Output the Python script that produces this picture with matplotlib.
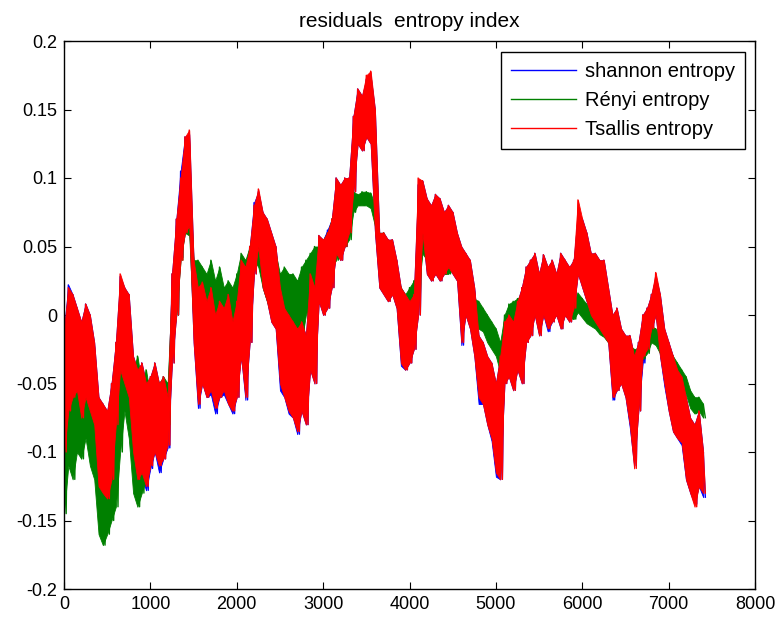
import numpy as np
import matplotlib
matplotlib.use("Agg")
import matplotlib.pyplot as plt

# Each series is stored as its local upper / lower swing for every block of
# 50 samples; the trace alternates between the two within the block.
step = 50

tsallis_hi = [
    -0.01, 0.02, 0.015, 0.005, -0.005, 0.008, 0.0, -0.02,
    -0.06, -0.065, -0.07, -0.05, -0.02, 0.03, 0.02, 0.015,
    -0.03, -0.04, -0.035, -0.05, -0.045, -0.035, -0.05, -0.045,
    -0.06, 0.03, 0.07, 0.10, 0.13, 0.135, 0.04, 0.02,
    0.024, 0.01, 0.02, 0.0, 0.01, 0.005, 0.015, -0.005,
    0.01, 0.04, 0.035, 0.05, 0.08, 0.092, 0.075, 0.07,
    0.06, 0.05, 0.02, 0.005, 0.0, -0.005, -0.01, -0.005,
    -0.015, 0.03, 0.02, 0.058, 0.055, 0.06, 0.07, 0.10,
    0.095, 0.10, 0.10, 0.145, 0.165, 0.16, 0.175, 0.178,
    0.15, 0.06, 0.06, 0.055, 0.055, 0.04, 0.02, 0.015,
    0.01, 0.015, 0.10, 0.098, 0.085, 0.08, 0.088, 0.085,
    0.075, 0.08, 0.075, 0.06, 0.05, 0.045, 0.04, 0.02,
    -0.015, -0.02, -0.03, -0.035, -0.05, -0.03, -0.005, 0.0,
    -0.005, 0.01, 0.02, 0.035, 0.04, 0.045, 0.03, 0.044,
    0.035, 0.04, 0.03, 0.045, 0.04, 0.035, 0.04, 0.084,
    0.07, 0.06, 0.045, 0.045, 0.04, 0.04, 0.02, 0.0,
    0.005, -0.01, -0.015, -0.015, -0.03, -0.02, 0.0, 0.005,
    0.015, 0.031, 0.015, -0.01, -0.02, -0.03, -0.04, -0.045,
    -0.06, -0.075, -0.08, -0.07, -0.10,
]
tsallis_lo = [
    -0.10, -0.07, -0.06, -0.055, -0.075, -0.06, -0.07, -0.08,
    -0.125, -0.13, -0.134, -0.12, -0.08, -0.04, -0.05, -0.06,
    -0.10, -0.12, -0.115, -0.125, -0.11, -0.10, -0.11, -0.105,
    -0.095, -0.035, 0.0, 0.04, 0.06, 0.065, -0.02, -0.065,
    -0.05, -0.06, -0.055, -0.068, -0.06, -0.055, -0.065, -0.07,
    -0.06, -0.03, -0.06, -0.02, 0.03, 0.05, 0.02, 0.01,
    -0.005, -0.01, -0.05, -0.06, -0.07, -0.075, -0.085, -0.07,
    -0.08, -0.04, -0.05, 0.01, 0.0, 0.005, 0.02, 0.045,
    0.04, 0.05, 0.06, 0.09, 0.125, 0.12, 0.13, 0.125,
    0.06, 0.02, 0.015, 0.01, 0.015, 0.005, -0.035, -0.04,
    -0.035, -0.025, 0.0, 0.06, 0.03, 0.025, 0.03, 0.025,
    0.03, 0.035, 0.03, 0.025, -0.02, 0.0, -0.01, -0.03,
    -0.06, -0.065, -0.08, -0.09, -0.115, -0.12, -0.05, -0.045,
    -0.055, -0.04, -0.05, -0.02, -0.015, 0.0, -0.015, 0.0,
    -0.01, -0.005, 0.0, -0.01, 0.0, -0.005, 0.005, 0.03,
    0.02, 0.01, 0.0, -0.005, -0.01, -0.015, -0.02, -0.06,
    -0.055, -0.05, -0.06, -0.08, -0.112, -0.07, -0.03, -0.025,
    -0.01, 0.0, -0.03, -0.05, -0.07, -0.085, -0.09, -0.093,
    -0.12, -0.13, -0.14, -0.125, -0.13,
]

shannon_hi = [
    -0.01, 0.022, 0.015, 0.005, -0.005, 0.008, 0.0, -0.02,
    -0.06, -0.065, -0.07, -0.05, -0.02, 0.028, 0.02, 0.015,
    -0.03, -0.04, -0.035, -0.05, -0.045, -0.035, -0.05, -0.045,
    -0.06, 0.03, 0.07, 0.105, 0.13, 0.132, 0.04, 0.02,
    0.024, 0.01, 0.02, 0.0, 0.01, 0.005, 0.015, -0.005,
    0.01, 0.04, 0.035, 0.05, 0.082, 0.09, 0.075, 0.07,
    0.06, 0.05, 0.02, 0.005, 0.0, -0.005, -0.01, -0.005,
    -0.015, 0.03, 0.02, 0.058, 0.055, 0.062, 0.07, 0.10,
    0.095, 0.10, 0.10, 0.145, 0.165, 0.16, 0.172, 0.175,
    0.15, 0.06, 0.06, 0.055, 0.055, 0.04, 0.02, 0.015,
    0.01, 0.015, 0.095, 0.098, 0.085, 0.08, 0.088, 0.085,
    0.075, 0.08, 0.075, 0.06, 0.05, 0.045, 0.04, 0.02,
    -0.015, -0.02, -0.03, -0.035, -0.05, -0.03, -0.005, 0.0,
    -0.005, 0.01, 0.02, 0.035, 0.04, 0.045, 0.03, 0.044,
    0.035, 0.04, 0.03, 0.045, 0.04, 0.035, 0.04, 0.075,
    0.07, 0.06, 0.045, 0.045, 0.04, 0.04, 0.02, 0.0,
    0.005, -0.01, -0.015, -0.015, -0.03, -0.02, 0.0, 0.005,
    0.015, 0.028, 0.015, -0.01, -0.02, -0.03, -0.04, -0.045,
    -0.06, -0.075, -0.08, -0.07, -0.10,
]
shannon_lo = [
    -0.10, -0.072, -0.06, -0.058, -0.078, -0.06, -0.07, -0.082,
    -0.128, -0.13, -0.136, -0.12, -0.08, -0.042, -0.05, -0.06,
    -0.105, -0.12, -0.118, -0.128, -0.112, -0.10, -0.115, -0.105,
    -0.097, -0.035, 0.0, 0.042, 0.06, 0.065, -0.02, -0.068,
    -0.05, -0.06, -0.058, -0.072, -0.06, -0.058, -0.065, -0.072,
    -0.06, -0.03, -0.062, -0.02, 0.03, 0.05, 0.02, 0.01,
    -0.005, -0.01, -0.055, -0.06, -0.072, -0.075, -0.087, -0.07,
    -0.08, -0.04, -0.05, 0.01, 0.0, 0.005, 0.02, 0.045,
    0.04, 0.05, 0.06, 0.09, 0.125, 0.12, 0.13, 0.125,
    0.06, 0.02, 0.015, 0.01, 0.015, 0.005, -0.037, -0.04,
    -0.035, -0.025, 0.0, 0.06, 0.03, 0.025, 0.03, 0.025,
    0.03, 0.035, 0.03, 0.025, -0.022, 0.0, -0.01, -0.03,
    -0.065, -0.065, -0.08, -0.092, -0.118, -0.12, -0.05, -0.045,
    -0.055, -0.04, -0.05, -0.02, -0.015, 0.0, -0.015, 0.0,
    -0.012, -0.005, 0.0, -0.01, 0.0, -0.005, 0.005, 0.03,
    0.02, 0.01, 0.0, -0.005, -0.01, -0.015, -0.02, -0.062,
    -0.055, -0.05, -0.06, -0.082, -0.11, -0.07, -0.035, -0.025,
    -0.01, 0.0, -0.03, -0.052, -0.07, -0.085, -0.09, -0.095,
    -0.12, -0.13, -0.138, -0.125, -0.133,
]

renyi_hi = [
    -0.03, -0.02, -0.03, -0.02, -0.015, -0.03, -0.04, -0.06,
    -0.08, -0.09, -0.10, -0.07, -0.04, -0.02, -0.01, -0.03,
    -0.04, -0.03, -0.05, -0.04, -0.06, -0.04, -0.05, -0.045,
    -0.05, 0.02, 0.06, 0.09, 0.11, 0.10, 0.04, 0.04,
    0.035, 0.03, 0.04, 0.025, 0.035, 0.02, 0.025, 0.02,
    0.03, 0.045, 0.04, 0.05, 0.07, 0.075, 0.065, 0.06,
    0.05, 0.045, 0.03, 0.035, 0.03, 0.03, 0.025, 0.035,
    0.04, 0.045, 0.05, 0.05, 0.055, 0.06, 0.07, 0.08,
    0.075, 0.08, 0.075, 0.09, 0.088, 0.09, 0.09, 0.089,
    0.08, 0.06, 0.06, 0.045, 0.045, 0.03, 0.02, 0.015,
    0.02, 0.025, 0.03, 0.065, 0.058, 0.055, 0.052, 0.05,
    0.05, 0.048, 0.05, 0.045, 0.04, 0.04, 0.035, 0.012,
    0.01, 0.005, 0.0, -0.005, -0.01, -0.02, 0.0, 0.008,
    0.01, 0.012, 0.015, 0.016, 0.018, 0.02, 0.019, 0.02,
    0.016, 0.017, 0.013, 0.015, 0.012, 0.012, 0.01, 0.016,
    0.012, 0.008, 0.005, 0.003, 0.0, -0.003, -0.008, -0.012,
    -0.016, -0.018, -0.02, -0.022, -0.025, -0.024, -0.02, -0.015,
    -0.008, -0.01, -0.015, -0.02, -0.025, -0.03, -0.035, -0.04,
    -0.045, -0.055, -0.06, -0.06, -0.065,
]
renyi_lo = [
    -0.145, -0.11, -0.12, -0.10, -0.105, -0.09, -0.11, -0.12,
    -0.16, -0.168, -0.16, -0.15, -0.14, -0.10, -0.07, -0.09,
    -0.13, -0.14, -0.13, -0.12, -0.10, -0.095, -0.10, -0.09,
    -0.08, -0.02, 0.0, 0.04, 0.06, 0.058, -0.01, -0.02,
    -0.025, -0.02, -0.015, -0.03, -0.02, -0.025, -0.03, -0.025,
    -0.01, 0.0, -0.005, 0.01, 0.04, 0.035, 0.02, 0.01,
    0.0, -0.005, -0.012, -0.01, -0.015, -0.02, -0.015, -0.02,
    0.0, 0.01, 0.01, 0.015, 0.025, 0.03, 0.035, 0.04,
    0.05, 0.05, 0.055, 0.075, 0.08, 0.08, 0.08, 0.078,
    0.065, 0.045, 0.04, 0.025, 0.02, 0.015, -0.005, -0.005,
    0.005, 0.01, 0.015, 0.045, 0.04, 0.035, 0.032, 0.033,
    0.03, 0.03, 0.035, 0.028, 0.02, 0.025, 0.015, -0.002,
    -0.01, -0.012, -0.02, -0.025, -0.03, -0.042, -0.02, -0.01,
    -0.008, -0.004, 0.0, 0.002, 0.004, 0.006, 0.006, 0.008,
    0.004, 0.005, 0.0, 0.002, 0.0, -0.002, -0.003, 0.002,
    -0.002, -0.006, -0.008, -0.01, -0.014, -0.016, -0.02, -0.024,
    -0.026, -0.028, -0.032, -0.034, -0.036, -0.035, -0.032, -0.028,
    -0.02, -0.022, -0.028, -0.032, -0.036, -0.042, -0.048, -0.052,
    -0.058, -0.068, -0.072, -0.07, -0.075,
]

series_labels = ["shannon entropy", "Rényi entropy", "Tsallis entropy"]
series_colors = ["#0000ff", "#008000", "#ff0000"]
x_ticks = list(range(0, 8001, 1000))
y_ticks = [-0.2, -0.15, -0.1, -0.05, 0, 0.05, 0.1, 0.15, 0.2]
y_tick_labels = ["-0.2", "-0.15", "-0.1", "-0.05", "0", "0.05", "0.1", "0.15", "0.2"]


def swing_trace(hi, lo):
    """Alternate upper and lower swing within each block of samples."""
    hi = np.asarray(hi, dtype=float)
    lo = np.asarray(lo, dtype=float)
    idx = np.arange(len(hi)) * step
    x = np.column_stack([idx, idx + step / 2]).ravel()
    y = np.column_stack([hi, lo]).ravel()
    return x, y


font = ["Liberation Sans", "DejaVu Sans"]

fig = plt.figure(figsize=(7.82, 6.18), dpi=100)
ax = fig.add_axes([64 / 782, 29 / 618, 691 / 782, 548 / 618])

pairs = [(shannon_hi, shannon_lo), (renyi_hi, renyi_lo), (tsallis_hi, tsallis_lo)]
for k, ((hi, lo), lab, col) in enumerate(zip(pairs, series_labels, series_colors)):
    idx = np.arange(len(hi)) * step
    z = 2 + k
    # dense oscillation reads as a solid band between the swing extremes
    ax.fill_between(idx, lo, hi, color=col, lw=0.6, edgecolor=col, zorder=z)
    x, y = swing_trace(hi, lo)
    ax.plot(x, y, color=col, lw=1.0, label=lab, zorder=z + 0.5)

ax.set_xlim(0, 8000)
ax.set_ylim(-0.2, 0.2)
ax.set_xticks(x_ticks)
ax.set_xticklabels([str(t) for t in x_ticks], family=font, fontsize=13)
ax.set_yticks(y_ticks)
ax.set_yticklabels(y_tick_labels, family=font, fontsize=13)
ax.tick_params(direction="in", top=True, right=True, length=5, width=0.8, pad=5)
for s in ax.spines.values():
    s.set_linewidth(1.0)
    s.set_zorder(10)

ax.set_title("residuals  entropy index", family=font, fontsize=15, pad=10)

leg = ax.legend(loc="upper right", bbox_to_anchor=(0.9855, 0.98), borderaxespad=0,
                fancybox=False, edgecolor="black", framealpha=1,
                prop={"family": font, "size": 14.5},
                handlelength=3.2, labelspacing=0.5, borderpad=0.5, handletextpad=0.45)
leg.set_zorder(20)
leg.get_frame().set_linewidth(1.0)
for line in leg.get_lines():
    line.set_linewidth(1.0)

fig.savefig("out.png", dpi=100)
